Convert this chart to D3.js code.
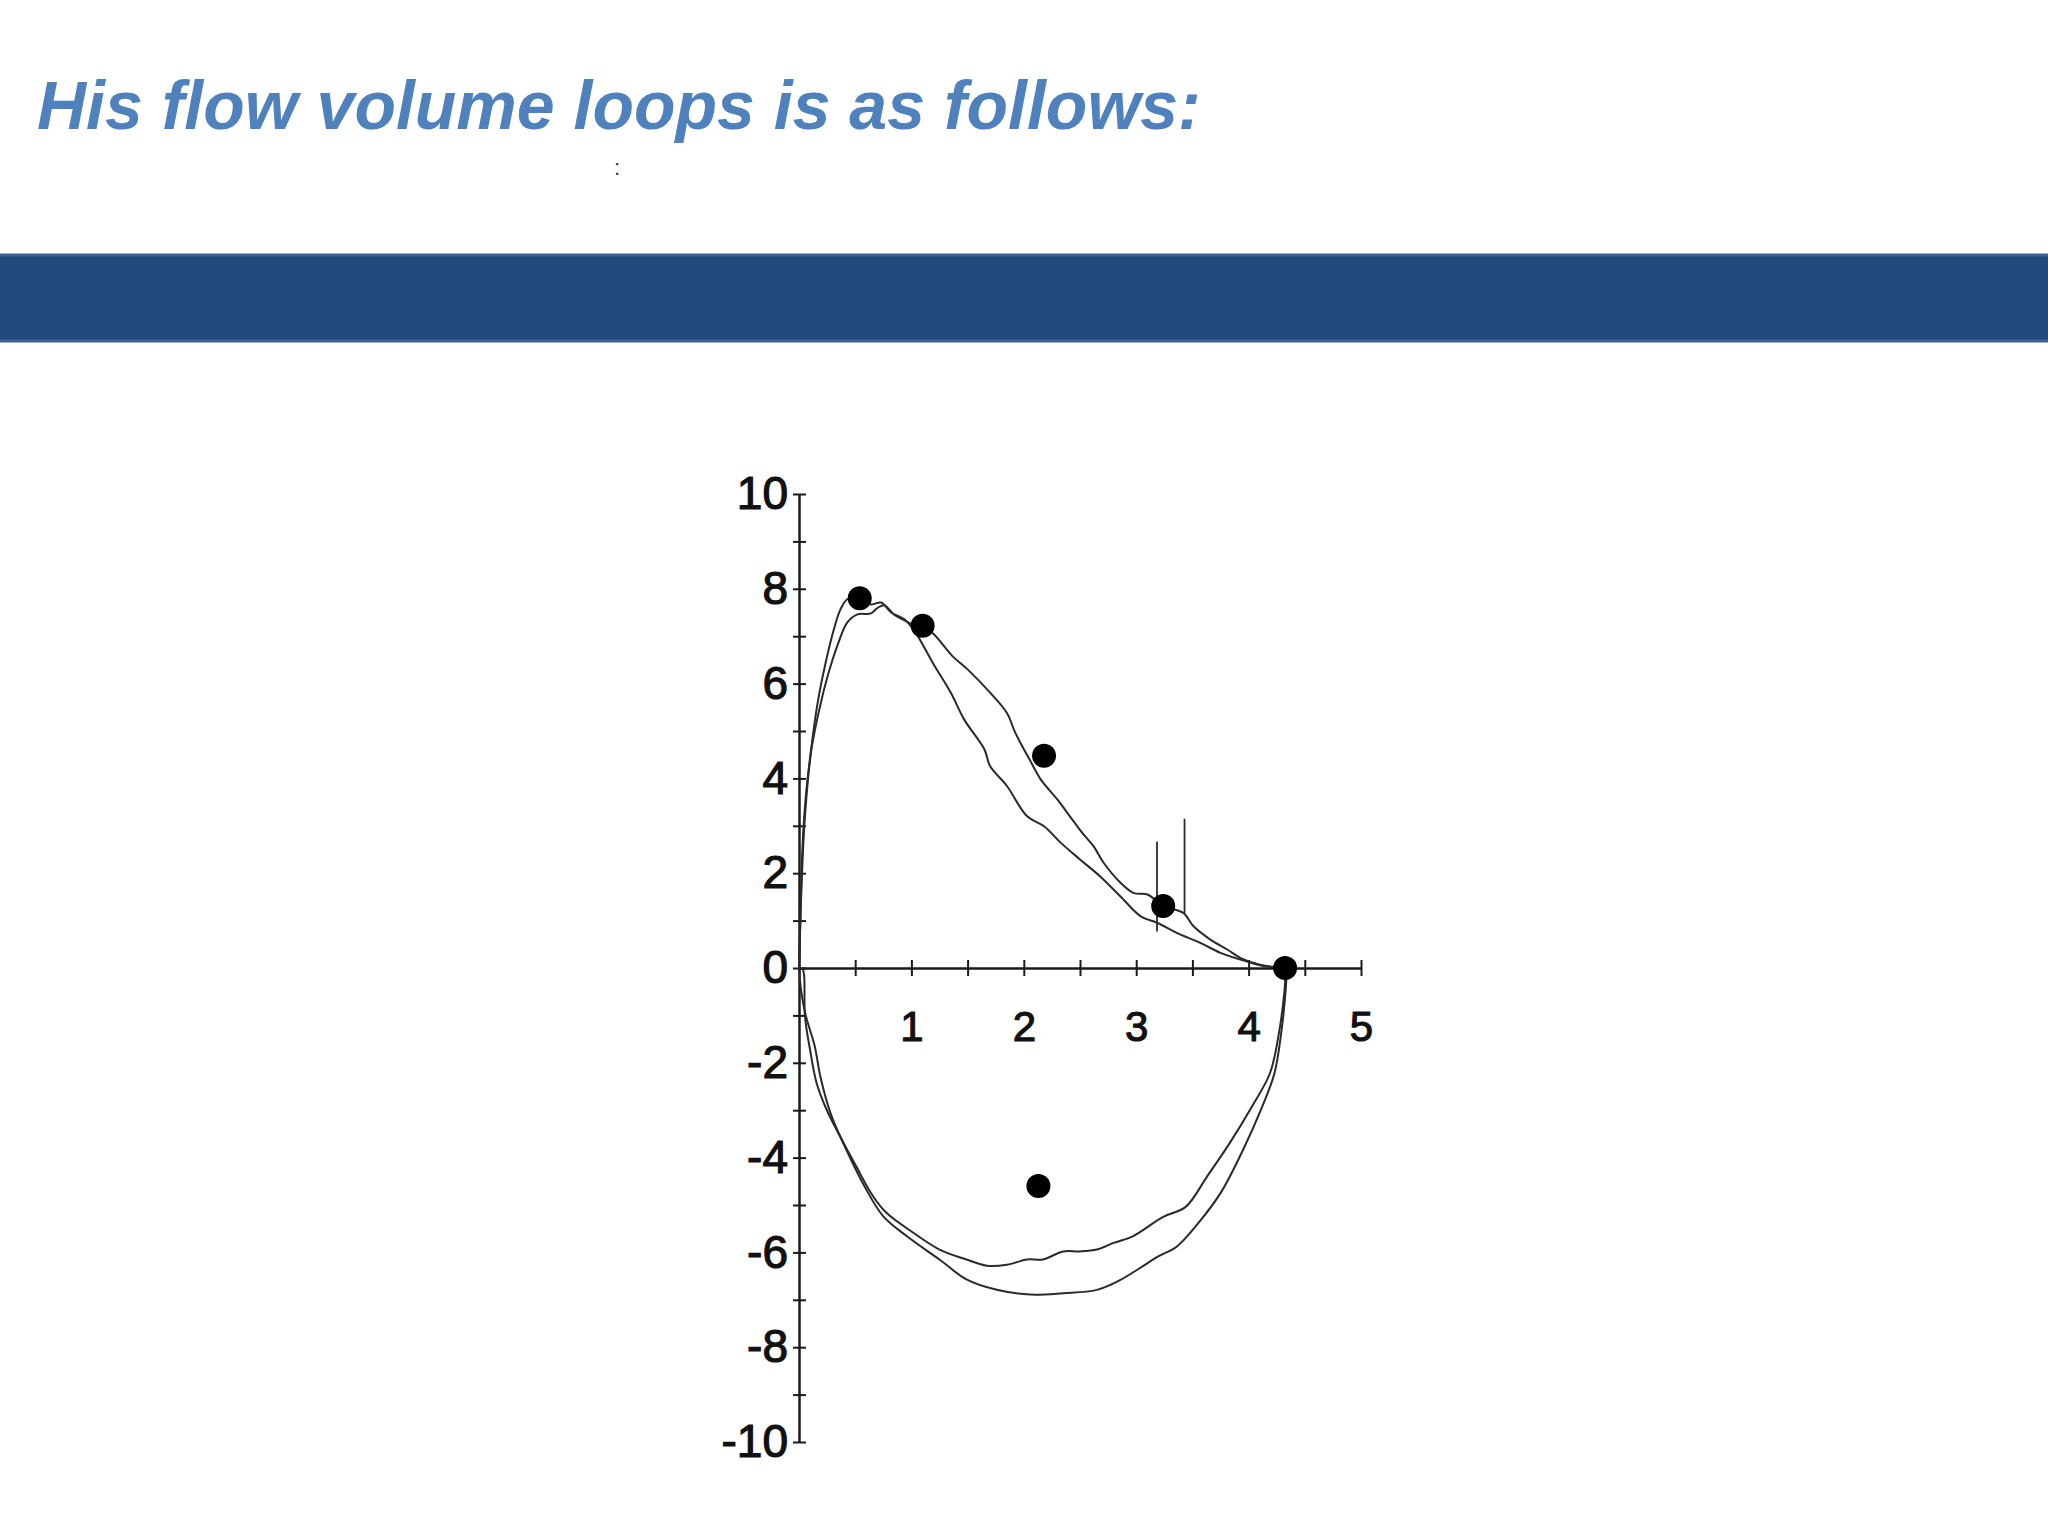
<!DOCTYPE html>
<html>
<head>
<meta charset="utf-8">
<script src="https://cdn.jsdelivr.net/npm/d3@7"></script>
<style>
  html, body { margin: 0; padding: 0; background: #ffffff; }
  svg { display: block; }
</style>
</head>
<body>
<svg id="chart" width="2048" height="1536"></svg>
<script>
// ---------- data (volume in L, flow in L/s) ----------
const titleText = "His flow volume loops is as follows:";

// expiratory trace 1: higher peak, faster descent
const exp1Volume = [0, 0.01, 0.03, 0.06, 0.107, 0.166, 0.237, 0.31, 0.37, 0.43, 0.54, 0.64, 0.73, 0.82, 0.935, 1.02, 1.20, 1.35, 1.47, 1.65, 1.70, 1.85, 2.03, 2.18, 2.33, 2.50, 2.68, 2.86, 3.04, 3.19, 3.36, 3.57, 3.75, 3.98, 4.16, 4.32];
const exp1Flow   = [0, 0.8, 2.5, 3.6, 4.6, 5.6, 6.44, 7.14, 7.57, 7.78, 7.82, 7.67, 7.71, 7.5, 7.36, 7.14, 6.40, 5.81, 5.24, 4.61, 4.26, 3.84, 3.20, 2.99, 2.64, 2.29, 1.93, 1.51, 1.09, 0.95, 0.74, 0.53, 0.32, 0.14, 0.03, 0];

// expiratory trace 2: lower plateau, slower descent
const exp2Volume = [0, 0.016, 0.05, 0.11, 0.19, 0.255, 0.34, 0.43, 0.52, 0.64, 0.70, 0.76, 0.85, 0.95, 1.05, 1.107, 1.20, 1.365, 1.50, 1.70, 1.85, 1.925, 2.06, 2.15, 2.30, 2.41, 2.52, 2.62, 2.71, 2.86, 2.98, 3.10, 3.24, 3.42, 3.51, 3.66, 3.81, 3.93, 4.10, 4.32];
const exp2Flow   = [0, 1.29, 3.1, 4.6, 5.55, 6.16, 6.79, 7.29, 7.46, 7.48, 7.6, 7.65, 7.45, 7.32, 7.2, 7.2, 7.04, 6.58, 6.30, 5.81, 5.38, 4.96, 4.36, 3.98, 3.55, 3.20, 2.85, 2.57, 2.22, 1.80, 1.58, 1.55, 1.31, 1.16, 0.88, 0.60, 0.39, 0.21, 0.07, 0];

// inspiratory trace 1 (deeper)
const insp1Volume = [0.0, 0.02, 0.06, 0.14, 0.19, 0.28, 0.42, 0.60, 0.75, 0.96, 1.25, 1.49, 1.76, 2.06, 2.35, 2.65, 2.86, 3.02, 3.20, 3.36, 3.55, 3.75, 3.95, 4.11, 4.23, 4.29, 4.33, 4.34];
const insp1Flow   = [0, -0.5, -1.0, -1.65, -2.29, -3.06, -3.83, -4.68, -5.24, -5.66, -6.15, -6.57, -6.79, -6.89, -6.86, -6.79, -6.58, -6.35, -6.08, -5.88, -5.39, -4.75, -3.84, -2.99, -2.22, -1.37, -0.46, 0];

// inspiratory trace 2 (shallower)
const insp2Volume = [0.03, 0.045, 0.053, 0.098, 0.157, 0.246, 0.365, 0.51, 0.66, 0.78, 1.02, 1.25, 1.49, 1.67, 1.85, 2.03, 2.17, 2.35, 2.50, 2.65, 2.80, 2.97, 3.24, 3.44, 3.63, 3.83, 4.03, 4.19, 4.27, 4.32, 4.33];
const insp2Flow   = [0, -0.14, -1.02, -1.72, -2.43, -2.99, -3.55, -4.19, -4.82, -5.17, -5.59, -5.94, -6.15, -6.28, -6.26, -6.15, -6.15, -5.98, -5.98, -5.94, -5.80, -5.66, -5.25, -5.04, -4.40, -3.70, -2.92, -2.22, -1.37, -0.46, 0];

// predicted-value markers
const markerVolume = [0.54, 1.10, 2.18, 3.24, 4.325, 2.13];
const markerFlow   = [7.80, 7.22, 4.48, 1.31, 0, -4.60];

// vertical cursor lines
const cursorVolume   = [3.185, 3.43];
const cursorFlowLow  = [0.77, 1.14];
const cursorFlowHigh = [2.67, 3.15];

const yTickValues = d3.range(-10, 11, 1);
const yTickLabels = [-10, -8, -6, -4, -2, 0, 2, 4, 6, 8, 10];
const xTickValues = [0.5, 1, 1.5, 2, 2.5, 3, 3.5, 4, 4.5, 5];
const xTickLabels = [1, 2, 3, 4, 5];

// ---------- drawing ----------
const svg = d3.select("#chart");
const W = 2048, H = 1536;

svg.append("rect").attr("width", W).attr("height", H).attr("fill", "#ffffff");

// title
svg.append("text")
  .attr("x", 37).attr("y", 129)
  .attr("font-family", "'Liberation Sans', Arial, sans-serif")
  .attr("font-weight", "bold").attr("font-style", "italic")
  .attr("font-size", 68)
  .attr("fill", "#4F81BD")
  .text(titleText);

svg.append("text")
  .attr("x", 614).attr("y", 175)
  .attr("font-family", "'Liberation Sans', Arial, sans-serif")
  .attr("font-size", 22).attr("fill", "#333")
  .text(":");

// band
svg.append("rect")
  .attr("x", -2).attr("y", 255).attr("width", W + 4).attr("height", 86)
  .attr("fill", "#234A7C").attr("stroke", "#3D6292").attr("stroke-width", 3);

// scales
const x = d3.scaleLinear().domain([0, 5]).range([799, 1361]);
const y = d3.scaleLinear().domain([-10, 10]).range([1442, 494]);

const font = "'Liberation Sans', Arial, sans-serif";

// y axis
const yAxis = svg.append("g")
  .attr("transform", `translate(${x(0)},0)`)
  .call(d3.axisLeft(y).tickValues(yTickValues).tickSize(6).tickSizeOuter(0).tickPadding(5)
    .tickFormat(d => yTickLabels.includes(d) ? String(d) : ""));
yAxis.select(".domain").attr("stroke", "#1a1a1a").attr("stroke-width", 2.5);
yAxis.selectAll(".tick line").attr("x1", 7).attr("stroke", "#1a1a1a").attr("stroke-width", 2);
yAxis.selectAll(".tick text")
  .attr("font-family", font).attr("font-size", 46).attr("fill", "#111")
  .attr("stroke", "#111").attr("stroke-width", 1.2);

// x axis
const xAxis = svg.append("g")
  .attr("transform", `translate(0,${y(0)})`)
  .call(d3.axisBottom(x).tickValues(xTickValues).tickSize(8).tickSizeOuter(0).tickPadding(35)
    .tickFormat(d => xTickLabels.includes(d) ? String(d) : ""));
xAxis.select(".domain").attr("stroke", "#1a1a1a").attr("stroke-width", 2.5);
xAxis.selectAll(".tick line").attr("y1", -8).attr("stroke", "#1a1a1a").attr("stroke-width", 2);
xAxis.selectAll(".tick text")
  .attr("font-family", font).attr("font-size", 42).attr("fill", "#111")
  .attr("stroke", "#111").attr("stroke-width", 1.1);

// curves
const line = d3.line()
  .x(d => x(d[0])).y(d => y(d[1]))
  .curve(d3.curveCatmullRom.alpha(0.5));

const curves = [
  [exp1Volume, exp1Flow],
  [exp2Volume, exp2Flow],
  [insp1Volume, insp1Flow],
  [insp2Volume, insp2Flow]
];
svg.append("g").selectAll("path")
  .data(curves.map(([v, f]) => v.map((vv, i) => [vv, f[i]])))
  .join("path")
  .attr("d", line)
  .attr("fill", "none")
  .attr("stroke", "#2a2a2a")
  .attr("stroke-width", 2)
  .attr("stroke-linejoin", "round");

// cursor lines
svg.append("g").selectAll("line")
  .data(cursorVolume.map((v, i) => ({ v, lo: cursorFlowLow[i], hi: cursorFlowHigh[i] })))
  .join("line")
  .attr("x1", d => x(d.v)).attr("x2", d => x(d.v))
  .attr("y1", d => y(d.lo)).attr("y2", d => y(d.hi))
  .attr("stroke", "#2a2a2a").attr("stroke-width", 1.8);

// markers
svg.append("g").selectAll("circle")
  .data(markerVolume.map((v, i) => [v, markerFlow[i]]))
  .join("circle")
  .attr("cx", d => x(d[0])).attr("cy", d => y(d[1]))
  .attr("r", 12)
  .attr("fill", "#000");
</script>
</body>
</html>
